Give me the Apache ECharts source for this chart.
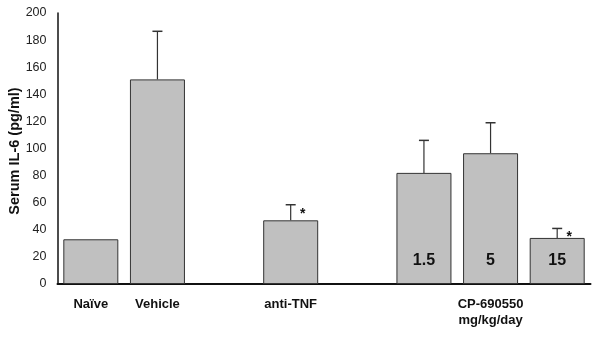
<!DOCTYPE html>
<html>
<head>
<meta charset="utf-8">
<script src="https://cdn.jsdelivr.net/npm/echarts@6/dist/echarts.min.js"></script>
<style>
  html, body { margin: 0; padding: 0; background: #fff; }
</style>
</head>
<body>
<div id="chart" style="width: 600px;height:337px;"></div>
<script>
// groups on the x axis (empty slots are the gaps between groups)
var axisLabels = ["Naïve", "Vehicle", "", "anti-TNF", "", "", "CP-690550\nmg/kg/day", ""];
var doseLabels = ["", "", "", "", "", "1.5", "5", "15"];
var means = [33, 151, null, 47, null, 82, 96.5, 34];
var errTop = [null, 186.5, null, 58.5, null, 106, 119, 41];
var signif = [0, 0, 0, 1, 0, 0, 0, 1];
var yTicks = [0, 200, 20];
var yTitle = "Serum IL-6 (pg/ml)";

var myChart = echarts.init(document.getElementById("chart"));

var errData = [];
for (var i = 0; i < means.length; i++) {
  if (means[i] != null) {
    errData.push([i, means[i], errTop[i] == null ? means[i] : errTop[i], signif[i]]);
  }
}

var option = {
  animation: false,
  textStyle: { fontFamily: "Liberation Sans, Arial, sans-serif" },
  grid: { left: 57.5, right: 9.5, top: 13, bottom: 53, outerBoundsMode: "none", containLabel: false },
  // y axis title, placed by hand (axis name gets pushed to the edge)
  graphic: [
    {
      type: "text",
      x: 15,
      y: 151,
      rotation: Math.PI / 2,
      style: {
        text: yTitle,
        fill: "#111",
        font: "bold 14.5px Liberation Sans, Arial, sans-serif",
        align: "center",
        verticalAlign: "middle"
      }
    }
  ],
  xAxis: {
    type: "category",
    data: axisLabels,
    offset: 2,
    axisLine: { lineStyle: { color: "#111", width: 2 } },
    axisTick: { show: false },
    axisLabel: {
      interval: 0,
      color: "#111",
      fontWeight: "bold",
      fontSize: 13,
      lineHeight: 16,
      margin: 10
    }
  },
  yAxis: {
    type: "value",
    min: yTicks[0],
    max: yTicks[1],
    interval: yTicks[2],
    axisLine: { show: true, lineStyle: { color: "#111", width: 1.5 } },
    axisTick: { show: false },
    splitLine: { show: false },
    axisLabel: { color: "#222", fontSize: 12.5, margin: 11 }
  },
  series: [
    {
      type: "bar",
      data: means,
      barWidth: 55,
      itemStyle: { color: "#c0c0c0", borderColor: "#333", borderWidth: 1 },
      label: {
        show: true,
        position: "insideBottom",
        distance: 15,
        color: "#111",
        fontWeight: "bold",
        fontSize: 16,
        formatter: function (p) {
          return doseLabels[p.dataIndex];
        }
      },
      z: 2
    },
    {
      type: "custom",
      data: errData,
      z: 3,
      renderItem: function (params, api) {
        var base = api.coord([api.value(0), api.value(1)]);
        var top = api.coord([api.value(0), api.value(2)]);
        var children = [];
        if (api.value(2) > api.value(1)) {
          children.push({
            type: "line",
            shape: { x1: base[0], y1: base[1], x2: top[0], y2: top[1] },
            style: { stroke: "#333", lineWidth: 1.2 }
          });
          children.push({
            type: "line",
            shape: { x1: top[0] - 5, y1: top[1], x2: top[0] + 5, y2: top[1] },
            style: { stroke: "#333", lineWidth: 1.5 }
          });
        }
        if (api.value(3)) {
          children.push({
            type: "text",
            style: {
              text: "*",
              x: top[0] + 12,
              y: top[1] + 9,
              fill: "#111",
              font: "bold 14px Liberation Sans, Arial, sans-serif",
              align: "center",
              verticalAlign: "middle"
            }
          });
        }
        return { type: "group", children: children };
      }
    }
  ]
};

myChart.setOption(option);
</script>
</body>
</html>
